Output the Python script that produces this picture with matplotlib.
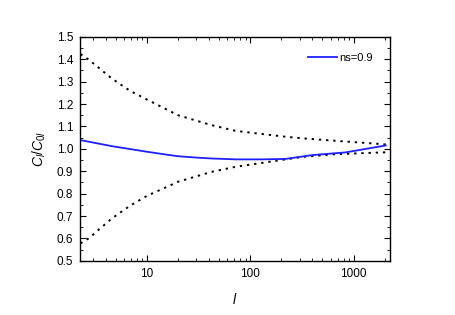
import matplotlib
matplotlib.use("Agg")
import matplotlib.pyplot as plt
from matplotlib.ticker import MultipleLocator, LogLocator, NullFormatter, FixedLocator, FixedFormatter

plt.rcParams['font.family'] = ['Liberation Sans', 'DejaVu Sans']
plt.rcParams['mathtext.fontset'] = 'custom'
plt.rcParams['mathtext.it'] = 'Liberation Sans:italic'
plt.rcParams['mathtext.rm'] = 'Liberation Sans'

# Upper / lower dotted bounds
l_bounds = [2.27, 2.72, 4.56, 6.85, 10, 20, 42, 72.6, 220, 319, 668, 1888, 2200]
upper = [1.423, 1.399, 1.314, 1.259, 1.22, 1.150, 1.106, 1.080, 1.054, 1.047, 1.036, 1.021, 1.018]
lower = [0.578, 0.600, 0.689, 0.746, 0.79, 0.853, 0.897, 0.920, 0.953, 0.964, 0.976, 0.984, 0.985]

# ns=0.9 curve
l_ns = [2.27, 4.56, 10, 15, 20, 30, 42, 72.6, 130, 220, 398, 832, 2050]
ratio_ns = [1.039, 1.012, 0.987, 0.975, 0.967, 0.961, 0.957, 0.953, 0.953, 0.955, 0.972, 0.984, 1.015]

fig = plt.figure(figsize=(4.55, 3.15), dpi=100)
ax = fig.add_axes([0.176, 0.172, 0.681, 0.711])

ax.plot(l_bounds, upper, color='black', linestyle=(0, (1.2, 2.5)), linewidth=1.4)
ax.plot(l_bounds, lower, color='black', linestyle=(0, (1.2, 2.5)), linewidth=1.4)
ax.plot(l_ns, ratio_ns, color='#1f1fff', linewidth=1.3, label='ns=0.9')

ax.set_xscale('log')
ax.set_xlim(2.25, 2250)
ax.set_ylim(0.5, 1.5)
ax.yaxis.set_major_locator(MultipleLocator(0.1))
ax.yaxis.set_minor_locator(MultipleLocator(0.05))
ax.yaxis.set_major_formatter(matplotlib.ticker.FormatStrFormatter('%.1f'))
ax.xaxis.set_major_locator(FixedLocator([10, 100, 1000]))
ax.xaxis.set_major_formatter(FixedFormatter(['10', '100', '1000']))
ax.xaxis.set_minor_locator(LogLocator(base=10, subs=range(2, 10), numticks=20))
ax.xaxis.set_minor_formatter(NullFormatter())

ax.tick_params(which='both', direction='in', top=True, right=True, labelsize=8.5)
ax.tick_params(which='major', length=4, width=0.8, pad=5)
ax.tick_params(which='minor', length=2.2, width=0.6)
for s in ax.spines.values():
    s.set_linewidth(1.0)

ax.set_xlabel('$l$', fontsize=10, labelpad=9)
ax.set_ylabel('$C_l/C_{0l}$', fontsize=10, labelpad=6)

ax.legend(loc='upper right', bbox_to_anchor=(0.945, 0.93), frameon=False, fontsize=8,
          handlelength=2.6, handletextpad=0.2, borderaxespad=0, borderpad=0)

fig.savefig('out.png', dpi=100)
